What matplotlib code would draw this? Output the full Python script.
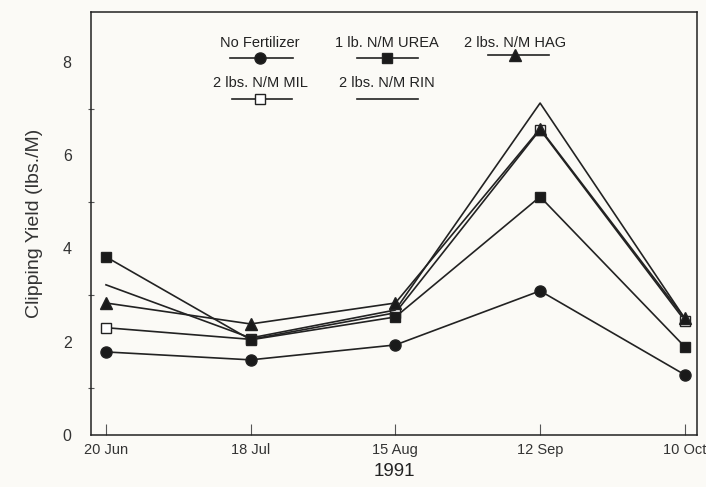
import matplotlib.pyplot as plt
from matplotlib.lines import Line2D

plt.rcParams['font.family'] = ['Liberation Sans', 'DejaVu Sans']

dates = ['20 Jun', '18 Jul', '15 Aug', '12 Sep', '10 Oct']
no_fert = [1.78, 1.61, 1.93, 3.09, 1.29]
urea = [3.82, 2.04, 2.53, 5.11, 1.89]
hag = [2.83, 2.38, 2.83, 6.57, 2.50]
mil = [2.30, 2.05, 2.62, 6.55, 2.45]
rin = [3.22, 2.08, 2.68, 7.12, 2.50]

names = ['No Fertilizer', '1 lb. N/M UREA', '2 lbs. N/M HAG',
         '2 lbs. N/M MIL', '2 lbs. N/M RIN']
series = [no_fert, urea, hag, mil, rin]
styles = [dict(marker='o', ms=8, mfc='#1a1a1a'),
          dict(marker='s', ms=7, mfc='#1a1a1a'),
          dict(marker='^', ms=8, mfc='#1a1a1a'),
          dict(marker='s', ms=7, mfc='white'),
          dict(marker='None')]
zorders = [5, 5, 6, 3, 4]

ink = '#222222'
bg = '#fbfaf6'

fig = plt.figure(figsize=(7.06, 4.87), dpi=100, facecolor=bg)
ax = fig.add_axes([0.129, 0.107, 0.858, 0.868], facecolor=bg)

x = list(range(len(dates)))
for vals, st, z in zip(series, styles, zorders):
    ax.plot(x, vals, color=ink, lw=1.2, mec=ink, mew=1.0, zorder=z, **st)

ax.set_xlim(-0.103, 4.083)
ax.set_ylim(0, 9.07)
ax.set_xticks(x)
ax.set_xticklabels(dates, fontsize=10.5, color='#333333')
ax.set_yticks([0, 2, 4, 6, 8])
ax.set_yticklabels(['0', '2', '4', '6', '8'], fontsize=11.5, color='#333333')
ax.set_yticks([1, 3, 5, 7], minor=True)
ax.tick_params(axis='x', direction='in', length=8, width=0.8, color='#555555', pad=6)
ax.tick_params(axis='y', which='major', length=0, pad=14)
ax.tick_params(axis='y', which='minor', direction='inout', length=5, width=0.8, color='#555555')
for s in ax.spines.values():
    s.set_color(ink)
    s.set_linewidth(1.1)

ax.set_xlabel('1991', fontsize=13.5, labelpad=4, color=ink)
ax.set_ylabel('Clipping Yield (lbs./M)', fontsize=14, labelpad=14, color='#333333')

# legend drawn by hand: text above a short line with the marker
key_pos = [(260, 43, 230, 293, 58), (387, 43, 357, 418, 58), (515, 43, 488, 549, 55),
           (260, 83, 232, 292, 99), (387, 83, 357, 418, 99)]
W, H = 706, 487
for name, st, (cx, ty, x0, x1, ly) in zip(names, styles, key_pos):
    fig.text(cx / W, 1 - ty / H, name, ha='center', va='center', fontsize=10.5, color=ink)
    fig.add_artist(Line2D([x0 / W, x1 / W], [1 - ly / H, 1 - ly / H], color=ink, lw=1.2,
                          transform=fig.transFigure))
    fig.add_artist(Line2D([cx / W], [1 - ly / H], color=ink, mec=ink, mew=1.0,
                          transform=fig.transFigure, **st))

fig.savefig('out.png', dpi=100, facecolor=bg)
